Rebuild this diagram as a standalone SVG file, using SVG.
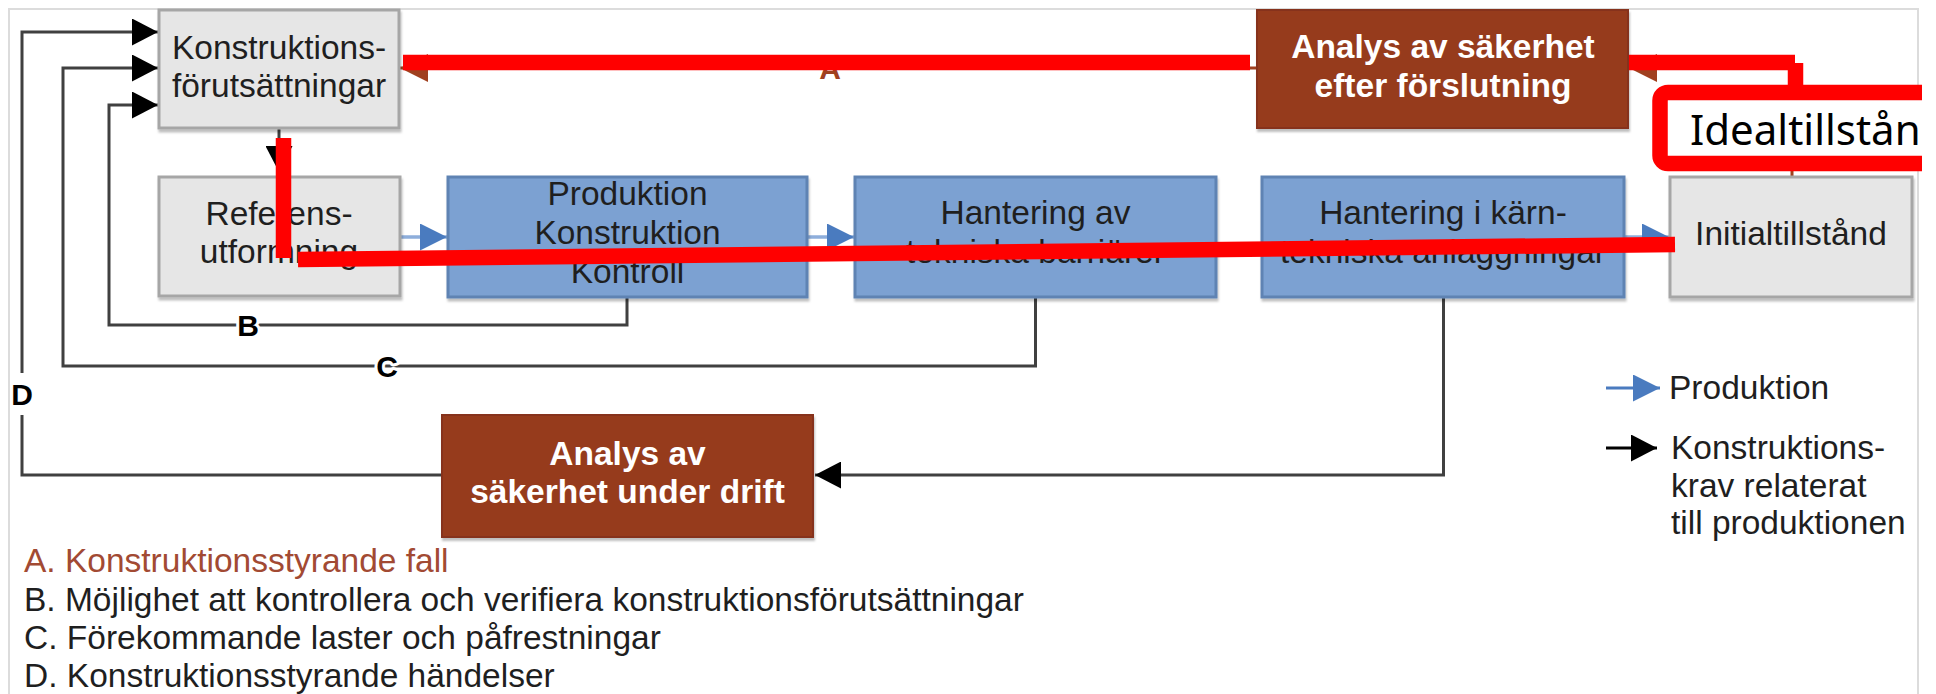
<svg xmlns="http://www.w3.org/2000/svg" width="1936" height="694" viewBox="0 0 1936 694">
<style>
  .t { font-family: "Liberation Sans", Arial, sans-serif; font-size: 33.5px; fill: #1f1f1f; text-anchor: middle; }
  .w { font-family: "Liberation Sans", Arial, sans-serif; font-size: 33.5px; fill: #ffffff; font-weight: bold; text-anchor: middle; }
  .lg { font-family: "Liberation Sans", Arial, sans-serif; font-size: 33.5px; fill: #1f1f1f; }
  .lbl { font-family: "Liberation Sans", Arial, sans-serif; font-size: 30px; font-weight: bold; fill: #000; text-anchor: middle; stroke: #fff; stroke-width: 6; paint-order: stroke; stroke-linejoin: round; }
  .gray { fill: #e6e6e6; stroke: #a6a6a6; stroke-width: 3; }
  .blue { fill: #7ba1d2; stroke: #5f83b3; stroke-width: 3; }
  .brown { fill: #963a1c; stroke: #86301a; stroke-width: 2; }
  .k { fill: none; stroke: #404040; stroke-width: 3; }
  .b { fill: none; stroke: #8eaedb; stroke-width: 3.5; }
  .br { fill: none; stroke: #a0401f; stroke-width: 3; }
  .red { fill: none; stroke: #ff0000; stroke-width: 15.5; }
</style>
<defs>
  <marker id="ahk" viewBox="0 0 26 27" refX="26" refY="13.5" markerWidth="26" markerHeight="27" orient="auto" markerUnits="userSpaceOnUse">
    <path d="M0,0 L26,13.5 L0,27 Z" fill="#000"/>
  </marker>
  <marker id="ahb" viewBox="0 0 27 27" refX="27" refY="13.5" markerWidth="27" markerHeight="27" orient="auto" markerUnits="userSpaceOnUse">
    <path d="M0,0 L27,13.5 L0,27 Z" fill="#4a7bbf"/>
  </marker>
  <marker id="ahr" viewBox="0 0 28 28" refX="28" refY="14" markerWidth="28" markerHeight="28" orient="auto" markerUnits="userSpaceOnUse">
    <path d="M0,0 L28,14 L0,28 Z" fill="#a0401f"/>
  </marker>
  <filter id="sh" x="-5%" y="-5%" width="110%" height="115%">
    <feDropShadow dx="1" dy="3" stdDeviation="1" flood-color="#000" flood-opacity="0.25"/>
  </filter>
  <clipPath id="clipR"><rect x="0" y="0" width="1922" height="694"/></clipPath>
</defs>

<rect x="9" y="9" width="1909" height="700" fill="none" stroke="#dcdcdc" stroke-width="2"/>

<g id="connectors">
  <path class="k" d="M442,475 H22 V415 M22,373 V32 H158" marker-end="url(#ahk)"/>
  <path class="k" d="M1035.5,297 V366 H63 V68 H158" marker-end="url(#ahk)"/>
  <path class="k" d="M627,297 V325 H109 V105 H158" marker-end="url(#ahk)"/>
  <path class="k" d="M1443.5,297 V475 H815" marker-end="url(#ahk)"/>
  <path class="k" d="M279,128 V172" marker-end="url(#ahk)"/>
  <path class="b" d="M400,237 H447" marker-end="url(#ahb)"/>
  <path class="b" d="M807,237 H854" marker-end="url(#ahb)"/>
  <path class="b" d="M1624,237 H1669" marker-end="url(#ahb)"/>
  <path class="br" d="M1257,68 H400" marker-end="url(#ahr)"/>
  <path class="br" d="M1792,177 V68 H1629" marker-end="url(#ahr)"/>
</g>

<g id="node-konstruktionsforutsattningar">
  <rect class="gray" x="159" y="10" width="240" height="118" filter="url(#sh)"/>
  <text class="t" x="279" y="59">Konstruktions-</text>
  <text class="t" x="279" y="97">förutsättningar</text>
</g>
<g id="node-referensutformning">
  <rect class="gray" x="159" y="177" width="241" height="119" filter="url(#sh)"/>
  <text class="t" x="279" y="225">Referens-</text>
  <text class="t" x="279" y="263">utformning</text>
</g>
<g id="node-produktion">
  <rect class="blue" x="448" y="177" width="359" height="120" filter="url(#sh)"/>
  <text class="t" x="627.5" y="205">Produktion</text>
  <text class="t" x="627.5" y="244">Konstruktion</text>
  <text class="t" x="627.5" y="283">Kontroll</text>
</g>
<g id="node-hantering-barriarer">
  <rect class="blue" x="855" y="177" width="361" height="120" filter="url(#sh)"/>
  <text class="t" x="1035.5" y="224">Hantering av</text>
  <text class="t" x="1035.5" y="263">tekniska barriärer</text>
</g>
<g id="node-hantering-anlaggningar">
  <rect class="blue" x="1262" y="177" width="362" height="120" filter="url(#sh)"/>
  <text class="t" x="1443" y="224">Hantering i kärn-</text>
  <text class="t" x="1443" y="263">tekniska anläggningar</text>
</g>
<g id="node-initialtillstand">
  <rect class="gray" x="1670" y="177" width="242" height="120" filter="url(#sh)"/>
  <text class="t" x="1791" y="245">Initialtillstånd</text>
</g>
<g id="node-analys-forslutning">
  <rect class="brown" x="1257" y="10" width="371" height="118" filter="url(#sh)"/>
  <text class="w" x="1443" y="58">Analys av säkerhet</text>
  <text class="w" x="1443" y="97">efter förslutning</text>
</g>
<g id="node-analys-drift">
  <rect class="brown" x="442" y="415" width="371" height="122" filter="url(#sh)"/>
  <text class="w" x="627.5" y="465">Analys av</text>
  <text class="w" x="627.5" y="503">säkerhet under drift</text>
</g>

<g id="connector-labels">
  <text class="lbl" x="830" y="79" style="fill:#a0401f">A</text>
  <text class="lbl" x="248" y="336">B</text>
  <text class="lbl" x="387" y="377">C</text>
  <text class="lbl" x="22" y="405" style="stroke:none">D</text>
</g>

<g id="legend">
  <path d="M1606,388 H1660" fill="none" stroke="#4a7bbf" stroke-width="3" marker-end="url(#ahb)"/>
  <text class="lg" x="1669" y="399">Produktion</text>
  <path d="M1606,448 H1657" fill="none" stroke="#000" stroke-width="3" marker-end="url(#ahk)"/>
  <text class="lg" x="1671" y="459">Konstruktions-</text>
  <text class="lg" x="1671" y="497">krav relaterat</text>
  <text class="lg" x="1671" y="534">till produktionen</text>
  <text class="lg" x="24" y="572" style="fill:#a24a33">A. Konstruktionsstyrande fall</text>
  <text class="lg" x="24" y="611">B. Möjlighet att kontrollera och verifiera konstruktionsförutsättningar</text>
  <text class="lg" x="24" y="649">C. Förekommande laster och påfrestningar</text>
  <text class="lg" x="24" y="687">D. Konstruktionsstyrande händelser</text>
</g>

<g id="annotation">
  <line class="red" x1="403" y1="62.5" x2="1250" y2="62.5"/>
  <line class="red" x1="283.5" y1="138" x2="283.5" y2="258"/>
  <line class="red" x1="298" y1="259.5" x2="1675" y2="244.5"/>
  <line class="red" x1="1629" y1="62.5" x2="1795" y2="62.5"/>
  <line class="red" x1="1795.5" y1="63" x2="1795.5" y2="90"/>
  <g id="callout-idealtillstand" clip-path="url(#clipR)">
    <rect x="1660" y="92.5" width="330" height="71" rx="8" fill="#ffffff" stroke="#ff0000" stroke-width="15.5"/>
    <text x="1690" y="145" style="font-family: 'Noto Sans', 'Open Sans', sans-serif; font-size: 42px; fill: #000;">Idealtillstånd</text>
  </g>
</g>
</svg>
